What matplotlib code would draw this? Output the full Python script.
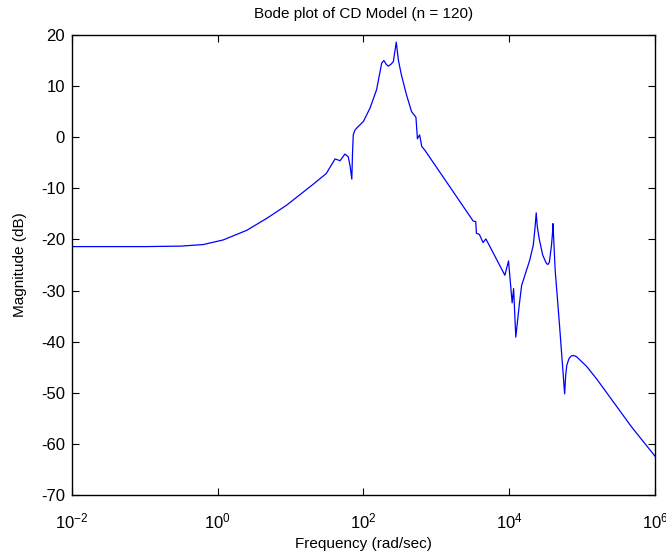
import matplotlib.pyplot as plt
import numpy as np
from matplotlib.ticker import FixedLocator, FuncFormatter, NullLocator

plt.rcParams['font.family'] = ['Liberation Sans', 'DejaVu Sans']
plt.rcParams['mathtext.fontset'] = 'custom'
plt.rcParams['mathtext.rm'] = 'Liberation Sans'
plt.rcParams['mathtext.default'] = 'regular'
plt.rcParams['axes.unicode_minus'] = False

# log10 of frequency (rad/sec) and magnitude (dB)
log_freq = [-2.0, -1.0, -0.5, -0.2, 0.075, 0.4, 0.67, 0.945, 1.31, 1.49,
            1.61, 1.68, 1.745, 1.79, 1.815, 1.84, 1.85, 1.86, 1.88, 1.905,
            2.0, 2.09, 2.18, 2.25, 2.28, 2.31, 2.34, 2.38, 2.41, 2.45,
            2.48, 2.52, 2.59, 2.66, 2.72, 2.74, 2.77, 2.80, 2.84, 3.185,
            3.505, 3.54, 3.55, 3.59, 3.64, 3.68, 3.94, 3.99, 4.04, 4.06,
            4.09, 4.14, 4.17, 4.28, 4.33, 4.355, 4.37, 4.385, 4.41, 4.46,
            4.51, 4.53, 4.55, 4.58, 4.595, 4.60, 4.63, 4.69, 4.76, 4.775,
            4.79, 4.82, 4.85, 4.88, 4.92, 5.06, 5.20, 5.68, 6.0]
mag_db = [-21.4, -21.4, -21.3, -21.0, -20.1, -18.2, -15.9, -13.3, -9.2, -7.1,
          -4.25, -4.6, -3.3, -3.8, -5.5, -8.2, -3.0, 0.45, 1.3, 1.76,
          3.1, 5.7, 9.3, 14.5, 15.0, 14.3, 13.9, 14.3, 14.8, 18.6,
          15.0, 12.2, 8.3, 5.0, 3.9, -0.3, 0.45, -1.8, -2.5, -9.7,
          -16.4, -16.5, -18.8, -19.0, -20.6, -19.9, -27.0, -24.2, -32.4, -29.6,
          -39.1, -32.5, -29.0, -24.1, -21.1, -17.5, -14.8, -17.5, -19.8, -23.1,
          -24.7, -24.9, -24.5, -21.1, -18.5, -16.9, -26.0, -36.8, -50.2, -46.5,
          -44.6, -43.3, -42.8, -42.7, -42.9, -44.8, -47.3, -56.7, -62.4]

freq = 10 ** np.array(log_freq)

fig = plt.figure(figsize=(6.66, 5.55), dpi=100)
ax = fig.add_axes([0.108, 0.108, 0.8755, 0.829])

ax.semilogx(freq, mag_db, color='#0000ff', linewidth=0.9)

ax.set_xlim(1e-2, 1e6)
ax.set_ylim(-70, 20)
ax.xaxis.set_major_locator(FixedLocator([1e-2, 1e0, 1e2, 1e4, 1e6]))
ax.xaxis.set_minor_locator(NullLocator())
ax.xaxis.set_major_formatter(FuncFormatter(lambda v, p: '$10^{%d}$' % round(np.log10(v))))
ax.set_yticks(np.arange(-70, 21, 10))

ax.tick_params(direction='in', length=5, width=0.8, top=True, right=True,
               labelsize=12)
ax.tick_params(axis='x', pad=12)
ax.tick_params(axis='y', pad=5)
for s in ax.spines.values():
    s.set_linewidth(1.0)

ax.set_title('Bode plot of CD Model (n = 120)', fontsize=11, pad=12)
ax.set_xlabel('Frequency (rad/sec)', fontsize=11, labelpad=4)
ax.set_ylabel('Magnitude (dB)', fontsize=11, labelpad=10)

fig.savefig('out.png', dpi=100)
